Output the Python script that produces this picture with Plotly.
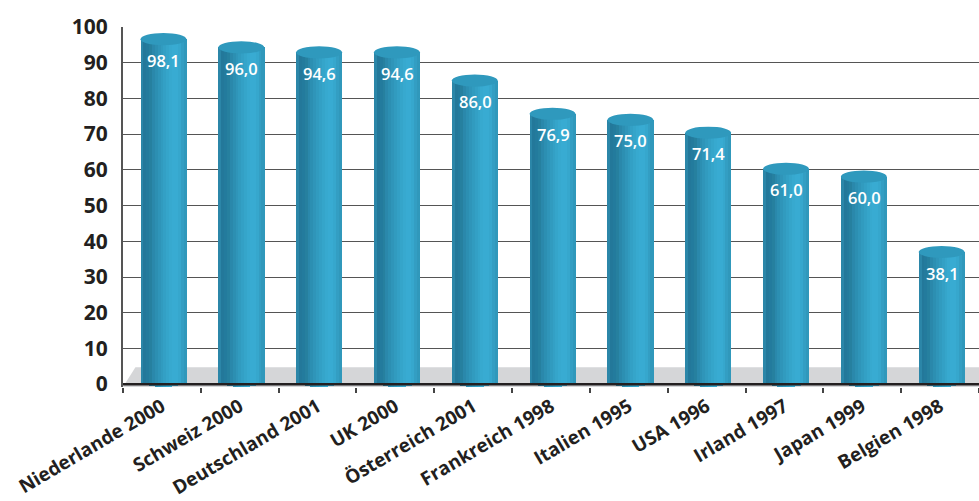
import math
import plotly.graph_objects as go

categories = ["Niederlande 2000", "Schweiz 2000", "Deutschland 2001", "UK 2000", "Österreich 2001",
              "Frankreich 1998", "Italien 1995", "USA 1996", "Irland 1997", "Japan 1999", "Belgien 1998"]
value_labels = ["98,1", "96,0", "94,6", "94,6", "86,0", "76,9", "75,0", "71,4", "61,0", "60,0", "38,1"]
# Heights as drawn in the picture (top edge of each cylinder)
heights = [98.3, 96.0, 94.6, 94.6, 86.7, 77.4, 75.7, 72.1, 62.0, 59.8, 38.7]
y_ticks = [0, 10, 20, 30, 40, 50, 60, 70, 80, 90, 100]

BAR_W = 0.59
SHIFT = 0.02
CAP = 1.7      # semi-height of the ellipses, in axis units
BOTTOM = 0.9   # centre of the bottom ellipse
stops = ["#2b86a8", "#23789a", "#237b9d", "#26809f", "#2a88ab", "#2c8fb2", "#2f95b9", "#319bbf",
         "#33a0c5", "#35a5ca", "#37a9cf", "#38abd2", "#38abd2", "#36a7cd", "#339ec3", "#3098bb"]
n = len(stops)
INK = "#231f20"
FONT = "Open Sans, Noto Sans, sans-serif"

fig = go.Figure()
for i, col in enumerate(stops):
    u = (i + 0.5) / n * 2 - 1
    base = BOTTOM - CAP * math.sqrt(max(0, 1 - u * u))
    w = BAR_W / n
    fig.add_trace(go.Bar(
        x=categories,
        y=[h - CAP - base for h in heights],
        base=[base] * len(categories),
        width=w * 1.12,
        offset=-BAR_W / 2 + SHIFT + i * w,
        marker=dict(color=col, line=dict(width=0)),
        hoverinfo="skip", showlegend=False,
    ))

annotations = [
    dict(x=c, y=h - 7.6, xref="x", yref="y", text=t, showarrow=False, xshift=2,
         font=dict(family=FONT, size=16.5, color="white", weight=600))
    for c, h, t in zip(categories, heights, value_labels)
]

shapes = [
    # floor of the 3D plot
    dict(type="path", path="M 0 0 L 0.0145 0.055 L 1 0.055 L 1 0 Z",
         xref="paper", yref="paper", fillcolor="#d5d6d8", line=dict(width=0), layer="below"),
    dict(type="line", xref="paper", x0=0, x1=1, yref="y", y0=0, y1=0,
         line=dict(color="#231f20", width=2.5), layer="above"),
]
for i, h in enumerate(heights):
    shapes.append(dict(
        type="circle", xref="x", yref="y",
        x0=i - BAR_W / 2 + SHIFT, x1=i + BAR_W / 2 + SHIFT,
        y0=h - 2 * CAP, y1=h,
        fillcolor="#2f99bd", line=dict(width=0), layer="above",
    ))

fig.update_layout(
    width=979, height=501,
    margin=dict(l=123, r=0, t=27, b=113.5),
    paper_bgcolor="white", plot_bgcolor="white",
    barmode="overlay", bargap=0,
    showlegend=False, shapes=shapes, annotations=annotations,
    xaxis=dict(
        type="category", categoryorder="array", categoryarray=categories,
        range=[-0.5, 10.5], tickson="boundaries", ticks="outside", ticklen=5, tickwidth=2,
        tickcolor="#444444", tickangle=-30.5, showgrid=False, showline=False, zeroline=False,
        ticklabelstandoff=4, automargin=False,
        tickfont=dict(family=FONT, size=19, color=INK, weight=700),
    ),
    yaxis=dict(
        range=[-0.8, 100], tickvals=y_ticks, ticktext=[str(v) for v in y_ticks],
        showgrid=True, gridcolor="#555555", gridwidth=1.2, zeroline=False, automargin=False,
        showline=True, linecolor="#555555", linewidth=2, ticks="", ticklabelstandoff=9,
        tickfont=dict(family=FONT, size=21, color=INK, weight=700),
    ),
)
fig.write_html("out.html", post_script="document.body.style.margin='0';",
               config=dict(displayModeBar=False))
